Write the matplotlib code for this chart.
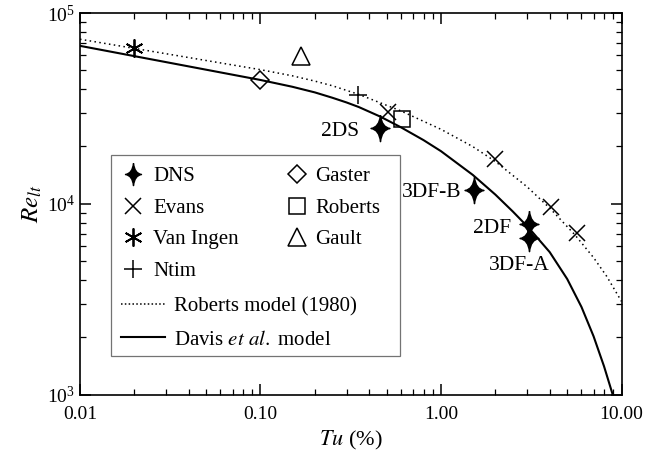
import numpy as np
import matplotlib
matplotlib.use('Agg')
import matplotlib.pyplot as plt
from matplotlib.path import Path
from matplotlib.lines import Line2D
from matplotlib.patches import Rectangle
from matplotlib.ticker import FuncFormatter

plt.rcParams['font.family'] = ['Liberation Serif', 'DejaVu Serif']
plt.rcParams['mathtext.fontset'] = 'stix'

# --- data ---
dns_tu = [0.46, 1.52, 3.07, 3.07]
dns_re = [25100, 11900, 7870, 6620]
dns_lbl = ['2DS', '3DF-B', '2DF', '3DF-A']

evans_tu = [0.506, 2.0, 4.08, 5.7]
evans_re = [30300, 17100, 9630, 7060]

vaningen_tu = [0.02]
vaningen_re = [65700]

ntim_tu = [0.347]
ntim_re = [37200]

gaster_tu = [0.1]
gaster_re = [44800]

roberts_tu = [0.605]
roberts_re = [27850]

gault_tu = [0.168]
gault_re = [59200]

# Roberts model (1980), dotted
rob_model_tu = [0.01, 0.1, 0.15, 0.2, 0.25, 0.35, 0.6, 1.0, 1.5, 2.0, 3.0, 4.0, 5.5, 7.0, 8.28, 10.0]
rob_model_re = [72900, 50500, 46900, 44000, 41600, 37500, 30700, 24600, 19970, 16700, 12300,
                9520, 6920, 5240, 4180, 3090]

# Davis et al. model, solid
davis_tu = [0.01, 0.1, 0.15, 0.2, 0.25, 0.3, 0.35, 0.46, 0.6, 0.8, 1.0, 1.5, 2.0, 2.5, 3.07,
            4.0, 5.0, 6.0, 7.0, 8.0, 8.95]
davis_re = [67300, 44600, 41100, 38400, 36000, 34000, 32200, 28700, 25200, 21600, 18900, 14200,
            11200, 9130, 7480, 5600, 4050, 2890, 2030, 1413, 1000]

# 4 pointed star for the DNS points
star_verts = [(0, 1.25), (0.12, 0.12), (0.9, 0), (0.12, -0.12), (0, -1.25),
              (-0.12, -0.12), (-0.9, 0), (-0.12, 0.12), (0, 1.25)]
star_codes = [Path.MOVETO] + [Path.CURVE3] * 8
star = Path(star_verts, star_codes)

fig = plt.figure(figsize=(6.45, 4.61), dpi=100)
ax = fig.add_axes([0.124, 0.1432, 0.8396, 0.8286])

ax.plot(rob_model_tu, rob_model_re, color='k', lw=1.1, ls=(0, (1, 2.2)))
ax.plot(davis_tu, davis_re, color='k', lw=1.5)

ax.plot(dns_tu, dns_re, ls='none', marker=star, ms=19, color='k')
ax.plot(evans_tu, evans_re, ls='none', marker='x', ms=11, mew=1.1, color='k')
ax.plot(vaningen_tu, vaningen_re, ls='none', marker=(6, 2, 0), ms=13, mew=1.3, color='k')
ax.plot(ntim_tu, ntim_re, ls='none', marker='+', ms=13, mew=1.1, color='k')
ax.plot(gaster_tu, gaster_re, ls='none', marker='D', ms=9, mew=1.1, mfc='none', color='k')
ax.plot(roberts_tu, roberts_re, ls='none', marker='s', ms=11, mew=1.1, mfc='none', color='k')
ax.plot(gault_tu, gault_re, ls='none', marker='^', ms=13, mew=1.1, mfc='none', color='k')

# labels of the DNS cases
offs = {'2DS': (-15, -3, 'right'), '3DF-B': (-9, -2, 'right'),
        '2DF': (-13, -3, 'right'), '3DF-A': (-7, -20, 'center')}
for t, r, s in zip(dns_tu, dns_re, dns_lbl):
    dx, dy, ha = offs[s]
    ax.annotate(s, (t, r), xytext=(dx, dy), textcoords='offset points',
                ha=ha, va='center', fontsize=15.5)

ax.set_xscale('log')
ax.set_yscale('log')
ax.set_xlim(0.01, 10)
ax.set_ylim(1e3, 1e5)
ax.xaxis.set_major_formatter(FuncFormatter(lambda v, p: '%.2f' % v))
ax.tick_params(which='both', direction='in', top=True, right=True, labelsize=14)
ax.tick_params(which='major', length=8, width=1.1)
ax.tick_params(which='minor', length=4.5, width=0.9)
ax.tick_params(axis='x', pad=8)
for sp in ax.spines.values():
    sp.set_linewidth(1.2)

ax.set_xlabel(r'$\mathit{Tu}$ (%)', fontsize=16, labelpad=4)
ax.set_ylabel(r'$Re_{lt}$', fontsize=18, labelpad=2)

# legend box
ax.add_patch(Rectangle((0.0567, 0.102), 0.535, 0.526, transform=ax.transAxes,
                       fill=False, ec='0.45', lw=0.9, zorder=5))

h1 = [Line2D([], [], ls='none', marker=star, ms=16, color='k'),
      Line2D([], [], ls='none', marker='x', ms=11, mew=1.1, color='k'),
      Line2D([], [], ls='none', marker=(6, 2, 0), ms=13, mew=1.3, color='k'),
      Line2D([], [], ls='none', marker='+', ms=13, mew=1.1, color='k')]
l1 = ['DNS', 'Evans', 'Van Ingen', 'Ntim']
h2 = [Line2D([], [], ls='none', marker='D', ms=9, mew=1.1, mfc='none', color='k'),
      Line2D([], [], ls='none', marker='s', ms=11, mew=1.1, mfc='none', color='k'),
      Line2D([], [], ls='none', marker='^', ms=13, mew=1.1, mfc='none', color='k')]
l2 = ['Gaster', 'Roberts', 'Gault']
h3 = [Line2D([], [], color='k', lw=1.1, ls=(0, (1, 1.5))),
      Line2D([], [], color='k', lw=1.5)]
l3 = ['Roberts model (1980)', r'Davis $\mathit{et\ al.}$ model']

leg_kw = dict(loc='upper left', bbox_transform=fig.transFigure, frameon=False,
              fontsize=15, borderpad=0, borderaxespad=0)
leg1 = ax.legend(h1, l1, bbox_to_anchor=(0.1868, 0.638), handlelength=1.2,
                 handletextpad=0.36, labelspacing=0.57, **leg_kw)
ax.add_artist(leg1)
leg2 = ax.legend(h2, l2, bbox_to_anchor=(0.4406, 0.638), handlelength=1.2,
                 handletextpad=0.28, labelspacing=0.57, **leg_kw)
ax.add_artist(leg2)
leg3 = ax.legend(h3, l3, bbox_to_anchor=(0.187, 0.3557), handlelength=2.13,
                 handletextpad=0.43, labelspacing=0.64, **leg_kw)

fig.savefig('out.png', dpi=100)
